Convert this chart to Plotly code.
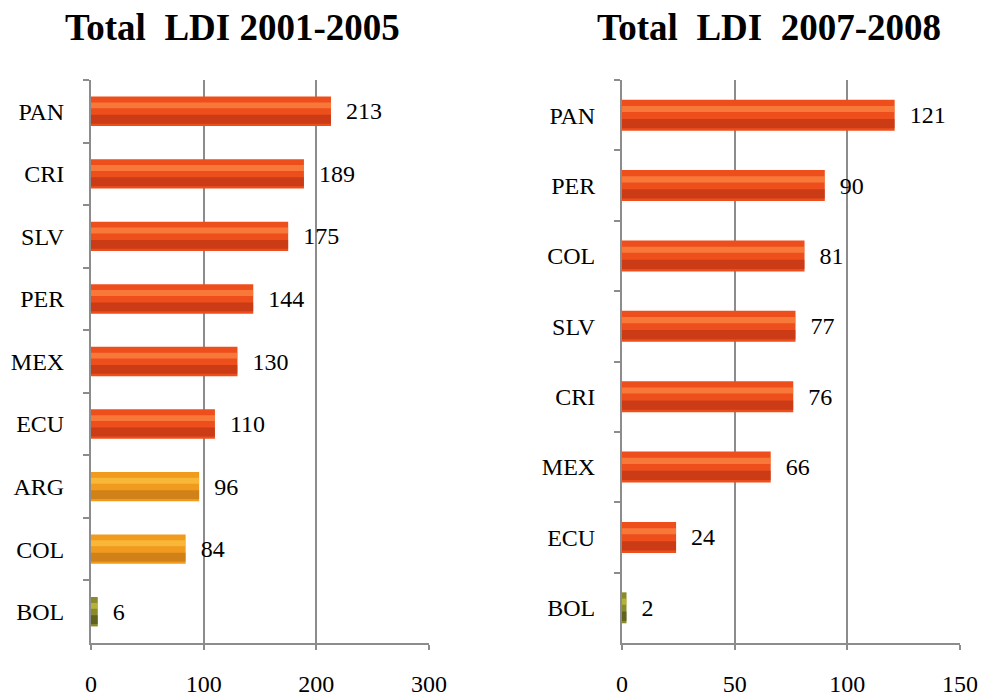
import plotly.graph_objects as go

# ---- data ----
cats_a = ["PAN", "CRI", "SLV", "PER", "MEX", "ECU", "ARG", "COL", "BOL"]
vals_a = [213, 189, 175, 144, 130, 110, 96, 84, 6]
cats_b = ["PAN", "PER", "COL", "SLV", "CRI", "MEX", "ECU", "BOL"]
vals_b = [121, 90, 81, 77, 76, 66, 24, 2]
title_a = "Total\u00a0 LDI\u00a02001-2005"
title_b = "Total\u00a0 LDI\u00a0 2007-2008"
ticks_a = [0, 100, 200, 300]
ticks_b = [0, 50, 100, 150]

# ---- styles (colour group per bar) ----
group_a = ["r", "r", "r", "r", "r", "r", "o", "o", "g"]
group_b = ["r", "r", "r", "r", "r", "r", "r", "g"]
BASE = {"r": "#EE4E1C", "o": "#F09A1E", "g": "#8A8A2A"}
HI = {"r": "#FF9A50", "o": "#FFD04A", "g": "#D8D040"}
LO = {"r": "#A82810", "o": "#B06810", "g": "#3A3A14"}

FONT = "Liberation Serif, Times New Roman, serif"
GRID = "#8C8C8C"

fig = go.Figure()

def add_panel(cats, vals, groups, xa, ya, width):
    fig.add_trace(go.Bar(
        y=cats, x=vals, orientation="h", xaxis=xa, yaxis=ya,
        width=width, offset=-width / 2,
        marker=dict(color=[BASE[g] for g in groups], line=dict(width=0)),
        text=[f"\u2002{v}" for v in vals], textposition="outside",
        textfont=dict(family=FONT, size=24, color="black"),
        cliponaxis=False, showlegend=False, hoverinfo="skip"))
    fig.add_trace(go.Bar(
        y=cats, x=vals, orientation="h", xaxis=xa, yaxis=ya,
        width=width * 0.3, offset=width * 0.12,
        marker=dict(color=[LO[g] for g in groups], line=dict(width=0), opacity=0.5),
        showlegend=False, hoverinfo="skip"))
    fig.add_trace(go.Bar(
        y=cats, x=vals, orientation="h", xaxis=xa, yaxis=ya,
        width=width * 0.2, offset=-width * 0.3,
        marker=dict(color=[HI[g] for g in groups], line=dict(width=0), opacity=0.55),
        showlegend=False, hoverinfo="skip"))

add_panel(cats_a, vals_a, group_a, "x", "y", 0.47)
add_panel(cats_b, vals_b, group_b, "x2", "y2", 0.44)

y_dom = [1 - 643 / 698, 1 - 80 / 698]
xcommon = dict(showgrid=True, gridcolor=GRID, gridwidth=1.5, zeroline=False,
               showline=True, linecolor=GRID, linewidth=2,
               ticks="outside", ticklen=5, tickcolor=GRID, tickwidth=1.5,
               tickfont=dict(family=FONT, size=24, color="black"),
               ticklabelstandoff=13, automargin=False, fixedrange=True)
ycommon = dict(type="category", autorange="reversed", showgrid=False,
               showline=True, linecolor=GRID, linewidth=2,
               ticks="outside", tickson="boundaries", ticklen=6, tickcolor=GRID, tickwidth=1.5,
               tickfont=dict(family=FONT, size=24, color="black"),
               ticklabelstandoff=20, automargin=False, fixedrange=True)

fig.update_layout(
    width=985, height=698,
    margin=dict(l=0, r=0, t=0, b=0),
    paper_bgcolor="white", plot_bgcolor="white",
    barmode="overlay", bargap=0.5,
    xaxis=dict(domain=[91 / 985, 429 / 985], range=[0, 300], tickvals=ticks_a,
               anchor="y", **xcommon),
    yaxis=dict(domain=y_dom, anchor="x", categoryorder="array", categoryarray=cats_a, **ycommon),
    xaxis2=dict(domain=[622 / 985, 960 / 985], range=[0, 150], tickvals=ticks_b,
                anchor="y2", **xcommon),
    yaxis2=dict(domain=y_dom, anchor="x2", categoryorder="array", categoryarray=cats_b, **ycommon),
    annotations=[
        dict(text=f"<b>{title_a}</b>", x=232 / 985, y=1 - 27 / 698, xref="paper", yref="paper",
             showarrow=False, font=dict(family=FONT, size=37, color="black"), xanchor="center", yanchor="middle"),
        dict(text=f"<b>{title_b}</b>", x=769 / 985, y=1 - 27 / 698, xref="paper", yref="paper",
             showarrow=False, font=dict(family=FONT, size=37, color="black"), xanchor="center", yanchor="middle"),
    ],
)

fig.write_html("out.html", config={"displayModeBar": False},
               post_script="document.body.style.margin='0';document.body.style.overflow='hidden';")
